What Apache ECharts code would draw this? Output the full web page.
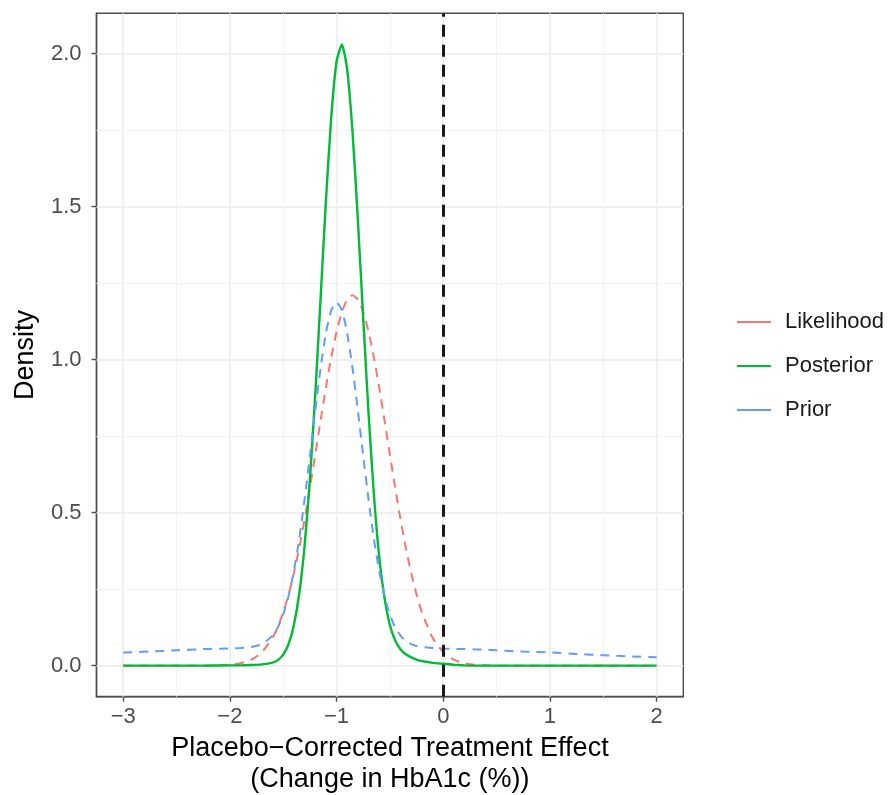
<!DOCTYPE html>
<html>
<head>
<meta charset="utf-8">
<script src="https://cdn.jsdelivr.net/npm/echarts@6/dist/echarts.min.js"></script>
<style>html,body{margin:0;padding:0;background:#fff}#c{width:894px;height:795px}</style>
</head>
<body>
<div id="c"></div>
<script>
const xs = [-3, -2.75, -2.5, -2.25, -2, -1.9, -1.8, -1.7, -1.6, -1.55, -1.5, -1.45, -1.4, -1.35, -1.3, -1.25, -1.2, -1.15, -1.1, -1.05, -1.0, -0.95, -0.9, -0.85, -0.8, -0.75, -0.7, -0.65, -0.6, -0.55, -0.5, -0.45, -0.4, -0.35, -0.3, -0.25, -0.2, -0.1, 0, 0.1, 0.2, 0.3, 0.4, 0.5, 0.75, 1, 1.25, 1.5, 1.75, 2];
const likelihood = [0, 0, 0, 0, 0.003, 0.008, 0.019, 0.044, 0.091, 0.127, 0.174, 0.232, 0.302, 0.384, 0.477, 0.580, 0.689, 0.800, 0.908, 1.007, 1.091, 1.156, 1.196, 1.210, 1.196, 1.156, 1.091, 1.007, 0.908, 0.800, 0.689, 0.580, 0.477, 0.384, 0.302, 0.232, 0.174, 0.091, 0.044, 0.019, 0.008, 0.003, 0.001, 0, 0, 0, 0, 0, 0, 0];
const posterior = [0, 0, 0, 0, 0.001, 0.001, 0.002, 0.004, 0.010, 0.018, 0.036, 0.070, 0.133, 0.235, 0.390, 0.608, 0.884, 1.198, 1.517, 1.791, 1.974, 2.030, 1.946, 1.742, 1.455, 1.134, 0.824, 0.560, 0.354, 0.220, 0.132, 0.082, 0.053, 0.037, 0.027, 0.020, 0.015, 0.009, 0.006, 0.003, 0.001, 0, 0, 0, 0, 0, 0, 0, 0, 0];
const prior = [0.043, 0.046, 0.050, 0.054, 0.056, 0.058, 0.061, 0.070, 0.098, 0.125, 0.167, 0.227, 0.309, 0.414, 0.542, 0.685, 0.833, 0.971, 1.086, 1.161, 1.187, 1.161, 1.086, 0.971, 0.833, 0.685, 0.542, 0.414, 0.309, 0.227, 0.167, 0.125, 0.098, 0.080, 0.070, 0.064, 0.061, 0.058, 0.056, 0.055, 0.054, 0.053, 0.052, 0.050, 0.046, 0.043, 0.038, 0.034, 0.030, 0.027];
const seriesNames = ['Likelihood', 'Posterior', 'Prior'];
const seriesColors = ['#F8766D', '#00BA38', '#619CFF'];
const xTicks = [-3, -2, -1, 0, 1, 2];
const yTicks = [0, 0.5, 1.0, 1.5, 2.0];
const xMinorGrid = [-2.5, -1.5, -0.5, 0.5, 1.5];
const yMinorGrid = [0.25, 0.75, 1.25, 1.75];
const refLineX = 0;
const xTitle = 'Placebo\u2212Corrected Treatment Effect\n(Change in HbA1c (%))';
const yTitle = 'Density';

const FONT = 'Liberation Sans, Arial, sans-serif';
const chart = echarts.init(document.getElementById('c'), null, {renderer: 'canvas'});

function pairs(ys) { return xs.map((x, i) => [x, ys[i]]); }
const fmtX = v => (v < 0 ? '\u2212' + Math.abs(v) : String(v));

const gridLines = [];
xTicks.forEach(v => gridLines.push({xAxis: v, lineStyle: {color: '#EBEBEB', width: 1.6, type: 'solid'}}));
xMinorGrid.forEach(v => gridLines.push({xAxis: v, lineStyle: {color: '#F2F2F2', width: 1, type: 'solid'}}));
yTicks.forEach(v => gridLines.push({yAxis: v, lineStyle: {color: '#EBEBEB', width: 1.6, type: 'solid'}}));
yMinorGrid.forEach(v => gridLines.push({yAxis: v, lineStyle: {color: '#F2F2F2', width: 1, type: 'solid'}}));

const dataSeries = [likelihood, posterior, prior].map((ys, i) => ({
  name: seriesNames[i],
  type: 'line',
  data: pairs(ys),
  showSymbol: false,
  symbol: 'none',
  smooth: 0.2,
  z: 3 + i,
  itemStyle: {color: seriesColors[i]},
  lineStyle: {color: seriesColors[i], width: i === 1 ? 2.4 : 2, type: i === 1 ? 'solid' : [9, 7]},
  emphasis: {disabled: true}
}));

chart.setOption({
  animation: false,
  backgroundColor: '#fff',
  textStyle: {fontFamily: FONT},
  grid: {left: 96.5, right: 210.7, top: 13.3, bottom: 98.3, show: true, borderColor: '#4D4D4D', borderWidth: 1.4, backgroundColor: 'transparent', containLabel: false, outerBoundsMode: 'none'},
  legend: {
    orient: 'vertical',
    left: 732, top: 306,
    data: seriesNames,
    icon: 'rect',
    itemWidth: 34, itemHeight: 2,
    itemGap: 22,
    textStyle: {fontSize: 22, color: '#1A1A1A', fontFamily: FONT, lineHeight: 22, padding: [0, 0, 0, 9]},
    selectedMode: false
  },
  xAxis: {
    type: 'value', min: -3.25, max: 2.25,
    name: xTitle, nameLocation: 'middle', nameGap: 36,
    nameTextStyle: {fontSize: 27, color: '#000', fontFamily: FONT, lineHeight: 31},
    axisLine: {show: true, onZero: false, lineStyle: {color: '#4D4D4D', width: 1.4}},
    axisTick: {show: true, customValues: xTicks, length: 5, lineStyle: {color: '#4D4D4D', width: 1.4}},
    axisLabel: {customValues: xTicks, formatter: fmtX, fontSize: 22, color: '#4D4D4D', margin: 9, fontFamily: FONT},
    splitLine: {show: false}
  },
  yAxis: {
    type: 'value', min: -0.1015, max: 2.1315,
    name: yTitle, nameLocation: 'middle', nameGap: 57, nameRotate: 90,
    nameTextStyle: {fontSize: 27, color: '#000', fontFamily: FONT},
    axisLine: {show: true, onZero: false, lineStyle: {color: '#4D4D4D', width: 1.4}},
    axisTick: {show: true, customValues: yTicks, length: 5, lineStyle: {color: '#4D4D4D', width: 1.4}},
    axisLabel: {customValues: yTicks, formatter: v => v.toFixed(1), fontSize: 22, color: '#4D4D4D', margin: 15, fontFamily: FONT},
    splitLine: {show: false}
  },
  series: [
    {
      name: 'grid', type: 'line', data: [], z: 1, silent: true,
      markLine: {silent: true, z: 1, symbol: 'none', label: {show: false}, animation: false, data: gridLines}
    },
    ...dataSeries,
    {
      name: 'ref', type: 'line', data: [], z: 10, silent: true,
      markLine: {silent: true, z: 10, symbol: 'none', label: {show: false}, animation: false,
        data: [{xAxis: refLineX, lineStyle: {color: '#1A1A1A', width: 3, type: [12, 8]}}]}
    }
  ]
});
</script>
</body>
</html>
